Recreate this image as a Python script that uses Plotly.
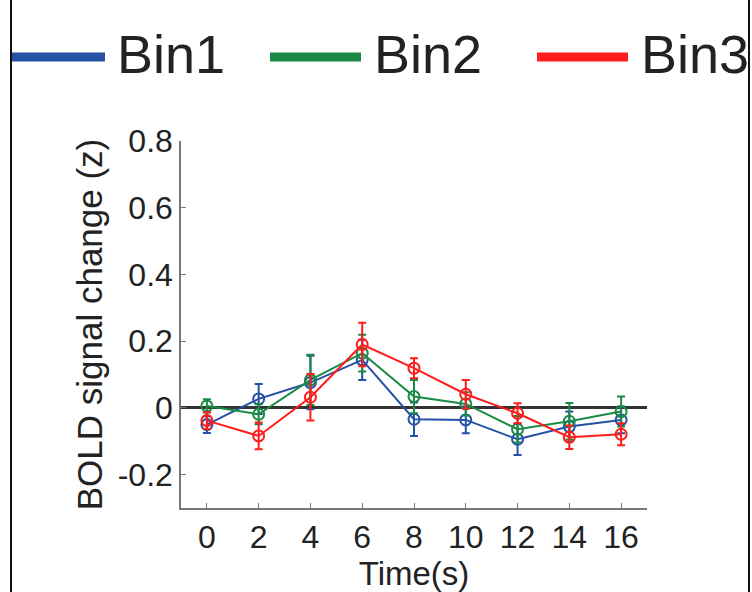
import plotly.graph_objects as go

# Time points (s) and mean BOLD response per bin, with standard errors
time_s = [0, 2, 4, 6, 8, 10, 12, 14, 16]
series_names = ["Bin1", "Bin2", "Bin3"]

bin1_mean = [-0.050, 0.027, 0.076, 0.144, -0.034, -0.036, -0.094, -0.056, -0.036]
bin1_err = [0.025, 0.045, 0.080, 0.060, 0.050, 0.040, 0.047, 0.045, 0.040]

bin2_mean = [0.006, -0.019, 0.084, 0.164, 0.034, 0.012, -0.064, -0.040, -0.011]
bin2_err = [0.020, 0.030, 0.075, 0.055, 0.050, 0.035, 0.040, 0.055, 0.045]

bin3_mean = [-0.038, -0.084, 0.032, 0.190, 0.119, 0.041, -0.016, -0.088, -0.079]
bin3_err = [0.025, 0.040, 0.070, 0.065, 0.030, 0.043, 0.030, 0.035, 0.033]

colors = ["#2451a6", "#1b8a45", "#ff1c1c"]
means = [bin1_mean, bin2_mean, bin3_mean]
errs = [bin1_err, bin2_err, bin3_err]

# Plot-area geometry (pixels) used for placing the legend and frame
W, H = 752, 592
L, R, T, B = 181, 647, 141, 508


def px(x):
    return (x - L) / (R - L)


def py(y):
    return (B - y) / (B - T)


font = "Liberation Sans, Arial, sans-serif"

fig = go.Figure()
for name, m, e, c in zip(series_names, means, errs, colors):
    fig.add_trace(go.Scatter(
        x=time_s, y=m, name=name, mode="lines+markers",
        line=dict(color=c, width=2),
        marker=dict(symbol="circle-open", size=11, color=c, line=dict(width=2, color=c)),
        error_y=dict(type="data", array=e, visible=True, color=c, thickness=2, width=4),
        showlegend=False,
    ))

# Legend drawn as thick line swatches with large labels across the top
legend_x = [(12, 105, 115), (270, 361, 372), (537, 628, 639)]
shapes = []
annotations = []
for name, c, (x0, x1, tx) in zip(series_names, colors, legend_x):
    shapes.append(dict(type="line", xref="paper", yref="paper",
                       x0=px(x0), x1=px(x1), y0=py(57), y1=py(57),
                       line=dict(color=c, width=9)))
    annotations.append(dict(text=name, xref="paper", yref="paper",
                            x=px(tx), y=py(54), xanchor="left", yanchor="middle",
                            showarrow=False, font=dict(family=font, size=54, color="#222")))

# Side frame lines
for xf in (11, 749):
    shapes.append(dict(type="line", xref="paper", yref="paper",
                       x0=px(xf), x1=px(xf), y0=py(0), y1=py(H),
                       line=dict(color="#111", width=2)))

fig.update_layout(
    width=W, height=H,
    margin=dict(l=L, r=W - R, t=T, b=H - B),
    paper_bgcolor="white", plot_bgcolor="white",
    font=dict(family=font, color="#222"),
    shapes=shapes, annotations=annotations,
    xaxis=dict(
        range=[-1, 17], tickvals=time_s, ticktext=[str(t) for t in time_s],
        showline=True, linecolor="#777", linewidth=1.5,
        ticks="inside", ticklen=5, tickcolor="#777",
        showgrid=False, zeroline=False,
        tickfont=dict(size=32, color="#222"),
        title=dict(text="Time(s)", font=dict(size=33, color="#222"), standoff=2),
    ),
    yaxis=dict(
        range=[-0.3, 0.8], tickvals=[-0.2, 0, 0.2, 0.4, 0.6, 0.8],
        ticktext=["-0.2", "0", "0.2", "0.4", "0.6", "0.8"],
        showline=True, linecolor="#777", linewidth=1.5,
        ticks="inside", ticklen=5, tickcolor="#777",
        showgrid=False, zeroline=True, zerolinecolor="#333", zerolinewidth=2.5,
        tickfont=dict(size=32, color="#222"),
        title=dict(text="BOLD signal change (z)", font=dict(size=35, color="#222"), standoff=4),
    ),
)

fig.write_html("out.html")
